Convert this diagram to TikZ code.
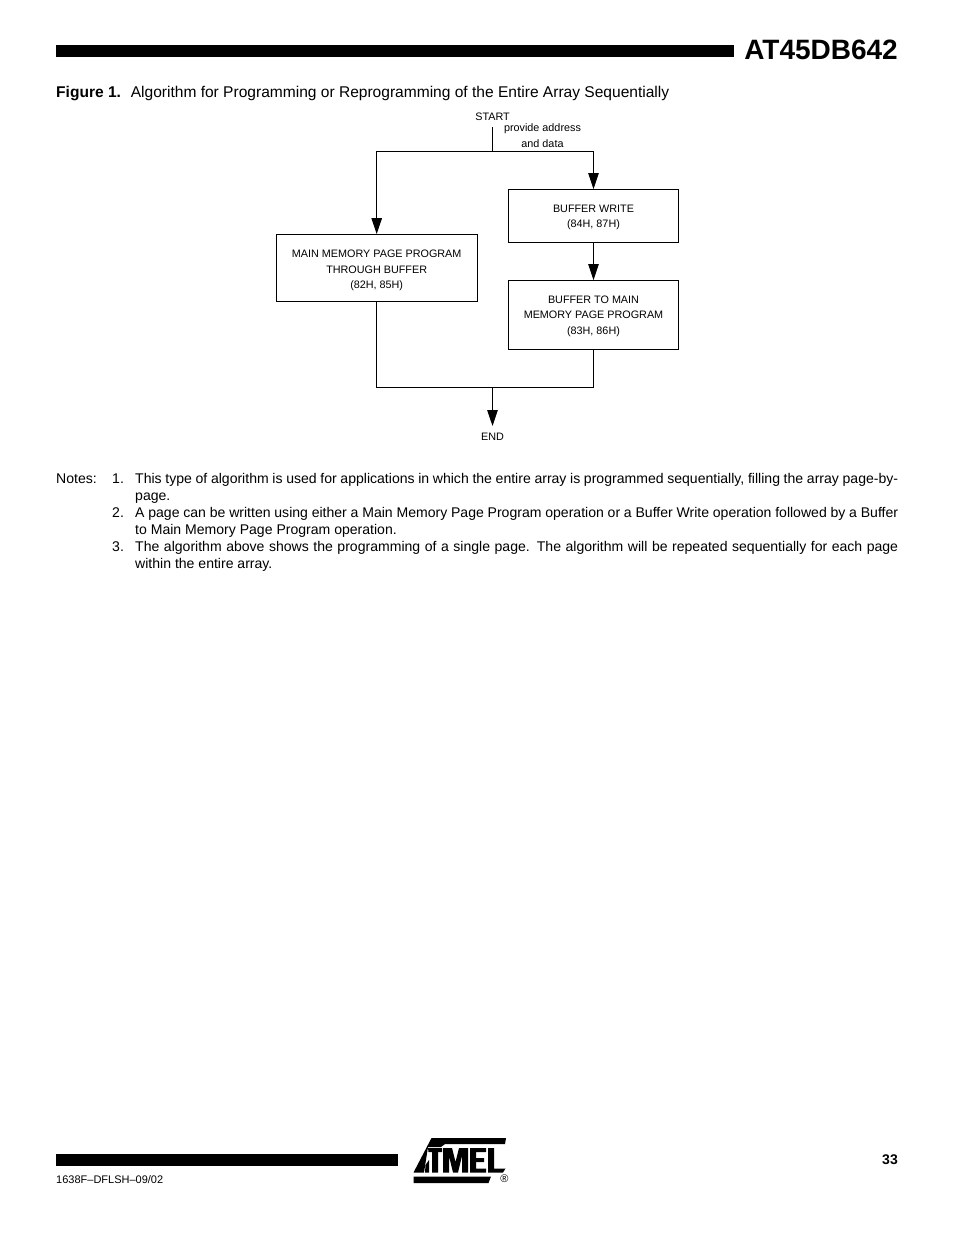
\documentclass[tikz,border=0pt]{standalone}
\usepackage{fontspec}
\setmainfont{Liberation Sans}
\usepackage{tikz}
\usetikzlibrary{arrows.meta}
\newcommand{\boxtop}[1]{\rule{0pt}{#1pt}}
\tikzset{
  flowbox/.style={draw,line width=0.9pt,minimum height=#1,align=center,font=\fontsize{10.8}{15.5}\selectfont,inner sep=0pt},
  flowtext/.style={align=center,font=\fontsize{10.8}{15.5}\selectfont,inner sep=0pt},
  flowline/.style={line width=0.9pt},
  flowarrow/.style={line width=0.9pt,-{Triangle[length=16pt,width=10.5pt]}},
  notetext/.style={anchor=base west,inner sep=0pt,font=\fontsize{14.05}{17}\selectfont},
  noteitem/.style={anchor=north west,inner sep=0pt,font=\fontsize{14.05}{17}\selectfont,text width=763pt,align=justify},
  headbar/.style={fill=black}
}
\begin{document}
\begin{tikzpicture}[x=1pt,y=-1pt]
\useasboundingbox (0,0) rectangle (954,1235);
\fill[white] (0,0) rectangle (954,1235);
% page header
\fill[headbar] (56,45) rectangle (734,57);
\node[anchor=east,inner sep=0pt,font=\fontsize{28}{28}\selectfont\bfseries] (title) at (898,50) {AT45DB642};
\node[anchor=base west,inner sep=0pt,font=\fontsize{15.55}{17}\selectfont] (caption) at (56,97) {\textbf{Figure 1.}\hspace{9.8pt}Algorithm for Programming or Reprogramming of the Entire Array Sequentially};
% flow chart
\node[flowtext] (start) at (492.5,116.5) {START};
\node[flowtext] (provide) at (542.5,135.5) {provide address\\and data};
\node[flowbox=67pt,minimum width=201pt] (main) at (376.7,268) {\boxtop{12.5}MAIN MEMORY PAGE PROGRAM\\THROUGH BUFFER\\(82H, 85H)};
\node[flowbox=53pt,minimum width=170pt] (write) at (593.5,216) {\boxtop{10.5}BUFFER WRITE\\(84H, 87H)};
\node[flowbox=69pt,minimum width=170pt] (tomain) at (593.5,315) {\boxtop{10}BUFFER TO MAIN\\MEMORY PAGE PROGRAM\\(83H, 86H)};
\node[flowtext] (end) at (492.5,436.5) {END};
\coordinate (stem) at (492.5,127);
\coordinate (split) at (492.5,151.5);
\coordinate (join) at (492.5,387.2);
\coordinate (endtip) at (492.5,426);
\draw[flowline] (stem) -- (split);
\draw[flowarrow] (split) -| (main.north);
\draw[flowarrow] (split) -| (write.north);
\draw[flowarrow] (write) -- (tomain);
\draw[flowline] (main.south) |- (join);
\draw[flowline] (tomain.south) |- (join);
\draw[flowarrow] (join) -- (endtip);
% notes
\node[notetext] (notes) at (56,483) {Notes:};
\node[notetext] (num1) at (112,483) {1.};
\node[noteitem] (note1) at (135,472.8) {This type of algorithm is used for applications in which the entire array is programmed sequentially, filling the array page-by-\allowbreak page.};
\node[notetext] (num2) at (112,517) {2.};
\node[noteitem] (note2) at (135,506.8) {A page can be written using either a Main Memory Page Program operation or a Buffer Write operation followed by a Buffer to Main Memory Page Program operation.};
\node[notetext] (num3) at (112,551) {3.};
\node[noteitem] (note3) at (135,540.8) {The algorithm above shows the programming of a single page. The algorithm will be repeated sequentially for each page within the entire array.};
% page footer
\fill[headbar] (56,1154) rectangle (398,1166);
\node[anchor=east,inner sep=0pt,font=\fontsize{14}{14}\selectfont\bfseries] (pagenum) at (898,1160) {33};
\node[anchor=west,inner sep=0pt,font=\fontsize{11}{13}\selectfont] (docnum) at (56,1180) {1638F–DFLSH–09/02};
% logo
\fill (431.5,1138) -- (506,1138) -- (505,1144) -- (445,1144) -- (441,1147) -- (428,1147) -- (424,1172.5) -- (413.5,1172.5) -- cycle;
\fill (428,1148) -- (442,1148) -- (442,1152) -- (438,1152) -- (438,1172.5) -- (432,1172.5) -- (432,1152) -- (428.5,1152) -- cycle;
\fill (425.5,1165) -- (429,1160) -- (429,1172.5) -- (425,1172.5) -- cycle;
\fill (443,1148) -- (452,1148) -- (455.5,1162) -- (459,1148) -- (468,1148) -- (468,1172.5) -- (462,1172.5) -- (462,1156) -- (458,1172.5) -- (453,1172.5) -- (449,1156) -- (449,1172.5) -- (443,1172.5) -- cycle;
\fill (470,1148) -- (486,1148) -- (486,1152) -- (476,1152) -- (476,1158) -- (484,1158) -- (484,1162) -- (476,1162) -- (476,1168.5) -- (486,1168.5) -- (486,1172.5) -- (470,1172.5) -- cycle;
\fill (488,1148) -- (494,1148) -- (494,1168.5) -- (505.5,1168.5) -- (503,1172.5) -- (488,1172.5) -- cycle;
\fill (413.5,1176.5) -- (491,1176.5) -- (488.5,1183) -- (413.5,1183) -- cycle;
\node[inner sep=0pt,font=\fontsize{11}{11}\selectfont] (regmark) at (504.5,1179) {®};
\end{tikzpicture}
\end{document}
